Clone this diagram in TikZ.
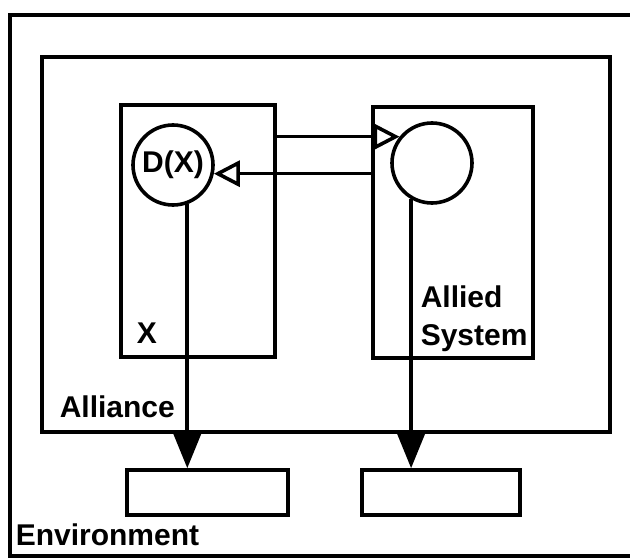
\documentclass[tikz,border=0pt]{standalone}
\usepackage{fontspec}
\setmainfont{Liberation Sans}
\usetikzlibrary{arrows.meta, positioning}

\begin{document}
\begin{tikzpicture}[x=1pt, y=-1pt, line width=3.6pt,
    font=\fontsize{30}{34}\selectfont\bfseries,
    box/.style={draw, rectangle, inner sep=0pt},
    unit/.style={draw, circle, inner sep=0pt, minimum size=80pt},
    lbl/.style={anchor=base west, inner sep=0pt},
    flow/.style={-{Triangle[open, length=26pt, width=26pt]}},
    output/.style={-{Triangle[length=38pt, width=30pt]}}]
    \useasboundingbox (0,0) rectangle (630,559);

    % environment frame, open on the right
    \draw (632,15) -- (10,15) -- (10,556) -- (632,556);
    \node[lbl] (envtxt) at (14,545) {Environment};

    \node[box, minimum width=568pt, minimum height=375pt] (alliance) at (326,244.5) {};
    \node[lbl] (alltxt) at (58,417) {Alliance};

    \node[box, minimum width=154pt, minimum height=252pt] (xsys) at (198,231) {};
    \node[box, minimum width=160pt, minimum height=251pt] (ally) at (453,232.5) {};
    \node[lbl] (xtxt) at (135,343) {X};
    \node[lbl] (allytxt) at (419,307) {Allied};
    \node[lbl] (systxt) at (419,345) {System};

    \node[unit] (dx) at (173,165) {D(X)};
    \node[unit] (al) at (432,163) {};

    \node[box, minimum width=161pt, minimum height=45pt] (envl) at (207.5,492.5) {};
    \node[box, minimum width=158pt, minimum height=45pt] (envr) at (441,492.5) {};

    \draw[flow] (xsys.east |- al.141) -- (al.141);
    \draw[flow] (ally.west |- dx.-12) -- (dx.-12);
    \draw[output] (dx.-70) -- (dx.-70 |- envl.north);
    \draw[output] (al.-120) -- (al.-120 |- envr.north);
\end{tikzpicture}
\end{document}
